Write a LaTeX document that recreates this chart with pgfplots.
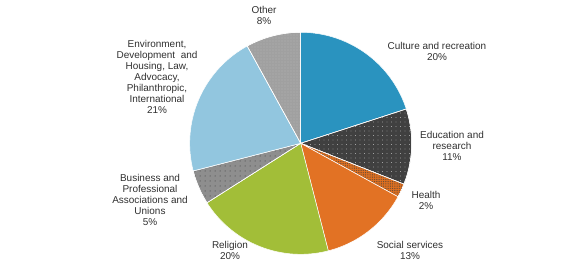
\documentclass[border=0pt]{standalone}
\usepackage{pgfplots}
\pgfplotsset{compat=1.18}
\usetikzlibrary{patterns.meta}
\usepackage{fontspec}
\setmainfont{Liberation Sans}
\definecolor{cult}{HTML}{2A93BF}
\definecolor{edu}{HTML}{404040}
\definecolor{heal}{HTML}{E07020}
\definecolor{soc}{HTML}{E27224}
\definecolor{rel}{HTML}{A2BE38}
\definecolor{bus}{HTML}{8E8E8E}
\definecolor{env}{HTML}{92C6DF}
\definecolor{oth}{HTML}{A0A0A0}
\definecolor{txt}{HTML}{303030}
% shares (%): Culture 20, Education 11, Health 2, Social 13, Religion 20, Business 5, Environment 21, Other 8
% slices start at 90 deg and run clockwise, 3.6 deg per percent
\newcommand{\slice}[3]{%
  \addplot[#3, draw=white, line width=0.5pt, domain=#2:#1, samples=80]
    ({300.7+111*cos(x)},{122.7+111*sin(x)}) -- (axis cs:300.7,122.7) -- cycle;}
\tikzset{lab/.style={font=\fontsize{10}{11}\selectfont, text=txt, align=center, inner sep=0pt}}
\begin{document}
\begin{tikzpicture}
\begin{axis}[
  width=587bp, height=266bp, scale only axis,
  xmin=0, xmax=587, ymin=0, ymax=266,
  hide axis, clip=false,
]
\path (axis cs:0,0) rectangle (axis cs:587,266);
\slice{90}{18}{fill=cult}
\slice{18}{-21.6}{fill=edu, postaction={pattern={Dots[distance=4.5bp,radius=0.45bp]}, pattern color=white!85!black}}
\slice{-21.6}{-28.8}{fill=heal, postaction={pattern={Dots[distance=1.8bp,radius=0.45bp]}, pattern color=edu}}
\slice{-28.8}{-75.6}{fill=soc}
\slice{-75.6}{-147.6}{fill=rel}
\slice{-147.6}{-165.6}{fill=bus, postaction={pattern={Dots[distance=5bp,radius=0.5bp]}, pattern color=black!80}}
\slice{-165.6}{-241.2}{fill=env}
\slice{-241.2}{-270}{fill=oth, postaction={pattern={Dots[distance=3bp,radius=0.45bp]}, pattern color=white!85!black}}
\node[lab] at (axis cs:264,250.5) {Other\\8\%};
\node[lab] at (axis cs:437,214.5) {Culture and recreation\\20\%};
\node[lab] at (axis cs:452,120) {Education and\\research\\11\%};
\node[lab] at (axis cs:426,65.5) {Health\\2\%};
\node[lab] at (axis cs:410,16) {Social services\\13\%};
\node[lab] at (axis cs:230,16) {Religion\\20\%};
\node[lab] at (axis cs:150,66) {Business and\\Professional\\Associations and\\Unions\\5\%};
\node[lab] at (axis cs:157,189) {Environment,\\Development\ \ and\\Housing, Law,\\Advocacy,\\Philanthropic,\\International\\21\%};
\end{axis}
\end{tikzpicture}
\end{document}
